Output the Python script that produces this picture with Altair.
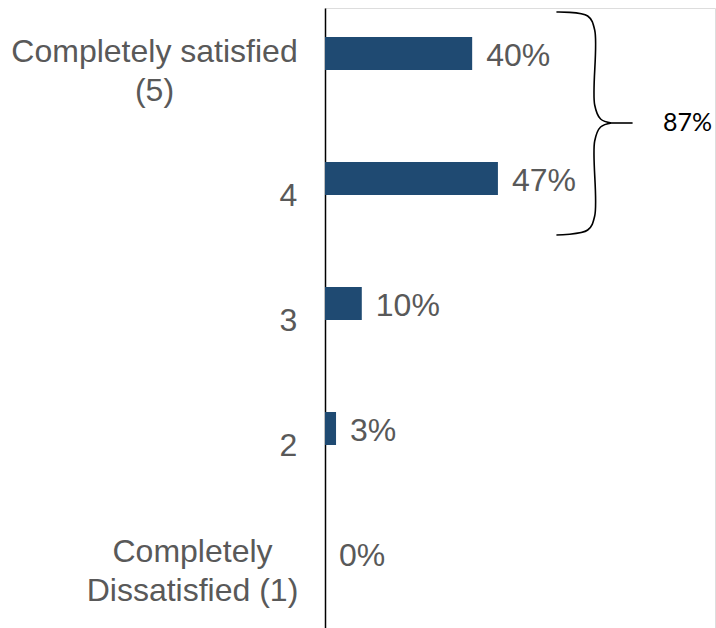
import json
import altair as alt
import pandas as pd

# Satisfaction levels, their axis labels and the share of respondents
levels = [5, 4, 3, 2, 1]
level_labels = [
    ["Completely satisfied", "(5)"],
    ["4"],
    ["3"],
    ["2"],
    ["Completely", "Dissatisfied (1)"],
]
shares = [40, 47, 10, 3, 0]

# Combined share of the two top levels, shown beside the brace
top_two_total = "87%"

# Curly brace around the top two levels (x in %, y in level units)
brace_part = ["upper"] * 6 + ["lower"] * 6 + ["tail"] * 2
brace_x = [62.9, 71.4, 73.3, 73.3, 74.9, 77.9,
           77.9, 74.9, 73.3, 73.3, 71.4, 62.9,
           77.9, 83.6]
brace_y = [5.332, 5.300, 5.188, 4.588, 4.476, 4.444,
           4.444, 4.412, 4.300, 3.700, 3.588, 3.548,
           4.444, 4.444]
brace_order = list(range(6)) + list(range(6)) + [0, 1]

bars = pd.DataFrame({
    "level": levels,
    "share": shares,
    "text": [f"{s}%" for s in shares],
})
brace = pd.DataFrame({"part": brace_part, "x": brace_x, "y": brace_y, "o": brace_order})
total = pd.DataFrame({"x": [98.5], "y": [4.444], "text": [top_two_total]})

# Axis label text picked by level value
label_expr = " : ".join(
    f"datum.value == {lv} ? {json.dumps(lbl)}" for lv, lbl in zip(levels, level_labels)
) + " : ''"

x_scale = alt.Scale(domain=[0, 106], nice=False, zero=False, padding=0)
y_scale = alt.Scale(domain=[0.404, 5.364], nice=False, zero=False, padding=0)

GREY = "#595959"

bar_layer = alt.Chart(bars).mark_bar(size=33, color="#1F4A72").encode(
    x=alt.X("share:Q", scale=x_scale, axis=None),
    x2=alt.datum(0),
    y=alt.Y(
        "level:Q",
        scale=y_scale,
        axis=alt.Axis(
            values=levels,
            labelExpr=label_expr,
            ticks=False,
            grid=False,
            title=None,
            domainColor="#000000",
            domainWidth=1.5,
            labelFont="Liberation Sans",
            labelFontSize=32,
            labelColor=GREY,
            labelAlign="center",
            labelBaseline="middle",
            labelLineHeight=39,
            labelLimit=0,
            labelOffset={"expr": "datum.value == 5 || datum.value == 1 ? -2 : 17"},
            labelPadding={"expr": "datum.value == 5 ? 171 : datum.value == 1 ? 133 : 37"},
            labelOverlap=False,
            labelBound=False,
            labelFlush=False,
        ),
    ),
)

value_layer = alt.Chart(bars).mark_text(
    align="left", baseline="middle", dx=14, dy=2,
    font="Liberation Sans", fontSize=32, color=GREY,
).encode(
    x=alt.X("share:Q", scale=x_scale),
    y=alt.Y("level:Q", scale=y_scale),
    text="text:N",
)

brace_layer = alt.Chart(brace).mark_line(
    color="#000000", strokeWidth=1.6, interpolate="catmull-rom", clip=False,
).encode(
    x=alt.X("x:Q", scale=x_scale),
    y=alt.Y("y:Q", scale=y_scale),
    detail="part:N",
    order="o:Q",
)

total_layer = alt.Chart(total).mark_text(
    align="center", baseline="middle", font="Lato", fontSize=25, color="#000000",
).encode(
    x=alt.X("x:Q", scale=x_scale),
    y=alt.Y("y:Q", scale=y_scale),
    text="text:N",
)

chart = alt.layer(bar_layer, value_layer, brace_layer, total_layer).properties(
    width=390,
    height=620,
    padding={"left": 325, "top": 8, "right": 1, "bottom": 0},
    autosize=alt.AutoSizeParams(type="none"),
).configure_view(stroke=None).configure(background="#ffffff")

chart.save("out.html", embed_options={"renderer": "svg", "actions": False})
